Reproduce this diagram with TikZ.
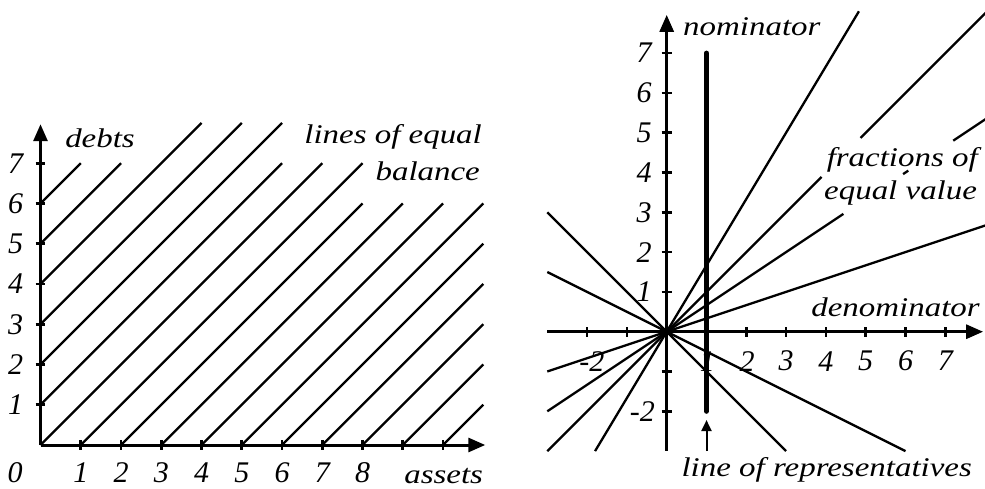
\documentclass[tikz,border=0pt]{standalone}
\usepackage{fontspec}
\setmainfont{Liberation Serif}[ItalicFont={Liberation Serif Italic}]
\usepackage{graphicx}
\usetikzlibrary{arrows.meta}
\newcommand\stretched[1]{\scalebox{1.22}[1]{#1}}
\begin{document}
\begin{tikzpicture}[x=1pt,y=-1pt,
  axis/.style={line width=3pt, -{Triangle[length=17pt,width=14pt]}},
  tickmark/.style={line width=2.6pt},
  ray/.style={line width=2.3pt},
  word/.style={font=\fontsize{27}{30}\selectfont\itshape, inner sep=0pt},
  num/.style={font=\fontsize{30}{33}\selectfont\itshape, inner sep=0pt},
  repline/.style={line width=5pt, line cap=round},
  pointer/.style={line width=2pt, -{Triangle[length=11pt,width=10pt]}}
]
\useasboundingbox (0,0) rectangle (985,489);

% ---------------- left chart ----------------
\begin{scope}[shift={(40.5,445)}, x=40.25pt, y=40.25pt]
  \coordinate (LO) at (0,0);
  \coordinate (LX) at (11.05,0);
  \coordinate (LY) at (0,7.97);
  % lines of equal balance
  \foreach \k/\e in {6/1,5/2,4/4,3/5,2/6,1/6}
    \draw[ray] (0,\k) -- (\e,\e+\k);
  \foreach \k/\e in {0/7,1/8,2/8,3/9,4/10,5/11,6/11,7/11,8/11,9/11,10/11}
    \draw[ray] (\k,0) -- (\e,\e-\k);
  % ticks
  \foreach \i in {1,...,10} \draw[tickmark] (\i,-0.12) -- (\i,0.12);
  \foreach \i in {1,...,7} \draw[tickmark] (-0.12,\i) -- (0.12,\i);
  % axes
  \draw[axis] (LO) -- (LX);
  \draw[axis] (LO) -- (LY);
  % labels
  \foreach \i in {1,...,7} \node[num] (ly\i) at (-0.62,\i) {\i};
  \foreach \i in {1,...,8} \node[num] (lx\i) at (\i,-0.69) {\i};
  \node[num] (l0) at (-0.63,-0.69) {0};
  \node[word, anchor=base east] (assets) at (11.0,-0.95) {\stretched{assets}};
  \node[word, anchor=base west] (debts) at (0.61,7.4) {\stretched{debts}};
  \node[word, anchor=base east] (leq1) at (10.97,7.5) {\stretched{lines of equal}};
  \node[word, anchor=base east] (leq2) at (10.92,6.58) {\stretched{balance}};
\end{scope}

% ---------------- right chart ----------------
\begin{scope}[shift={(666.7,331.7)}, x=39.8pt, y=39.8pt]
  \coordinate (RO) at (0,0);
  \coordinate (RXs) at (-3,0);
  \coordinate (RXe) at (7.95,0);
  \coordinate (RYs) at (0,-3);
  \coordinate (RYe) at (0,7.96);
  % tick labels (drawn first, lines go over them)
  \foreach \i in {1,...,7} \node[num] (ry\i) at (-0.57,\i) {\i};
  \node[num, anchor=east] (rym2) at (-0.29,-2) {-2};
  \node[num] (rxm2) at (-1.88,-0.74) {-2};
  \node[num] (rx1) at (1.02,-0.74) {1};
  \node[num] (rx2) at (2.02,-0.74) {2};
  \foreach \i in {3,...,7} \node[num] (rx\i) at (\i,-0.74) {\i};
  % rays through the origin (broken where the label sits)
  \draw[ray] (-3,-1) -- (8.05,2.683);
  \draw[ray] (-3,-2) -- (4.44,2.96);
  \draw[ray] (5.94,3.96) -- (6.07,4.047);
  \draw[ray] (7.2,4.8) -- (8.05,5.367);
  \draw[ray] (-3,-3) -- (3.89,3.89);
  \draw[ray] (4.87,4.87) -- (8.05,8.05);
  \draw[ray] (-1.8,-3) -- (4.83,8.05);
  \draw[ray] (-3,3) -- (3,-3);
  \draw[ray] (-3,1.5) -- (6,-3);
  % ticks
  \foreach \i in {-2,-1,1,2,...,7} \draw[tickmark] (\i,-0.13) -- (\i,0.13);
  \foreach \i in {-2,-1,1,2,...,7} \draw[tickmark] (-0.13,\i) -- (0.13,\i);
  % axes
  \draw[line width=3pt] (RO) -- (RXs);
  \draw[line width=3pt] (RO) -- (RYs);
  \draw[axis] (RO) -- (RXe);
  \draw[axis] (RO) -- (RYe);
  % line of representatives
  \coordinate (RLb) at (1,-2);
  \coordinate (RLt) at (1,7);
  \draw[repline] (RLb) -- (RLt);
  \coordinate (RPs) at (1,-3.0);
  \coordinate (RPe) at (1,-2.22);
  \draw[pointer] (RPs) -- (RPe);
  % words
  \node[word, anchor=base west] (nom) at (0.41,7.45) {\stretched{nominator}};
  \node[word, anchor=base east] (den) at (7.87,0.39) {\stretched{denominator}};
  \node[word, anchor=base east] (frac1) at (7.82,4.15) {\stretched{fractions of}};
  \node[word, anchor=base east] (frac2) at (7.80,3.31) {\stretched{equal value}};
  \node[word, anchor=base] (rep) at (4.02,-3.63) {\stretched{line of representatives}};
\end{scope}
\end{tikzpicture}
\end{document}
